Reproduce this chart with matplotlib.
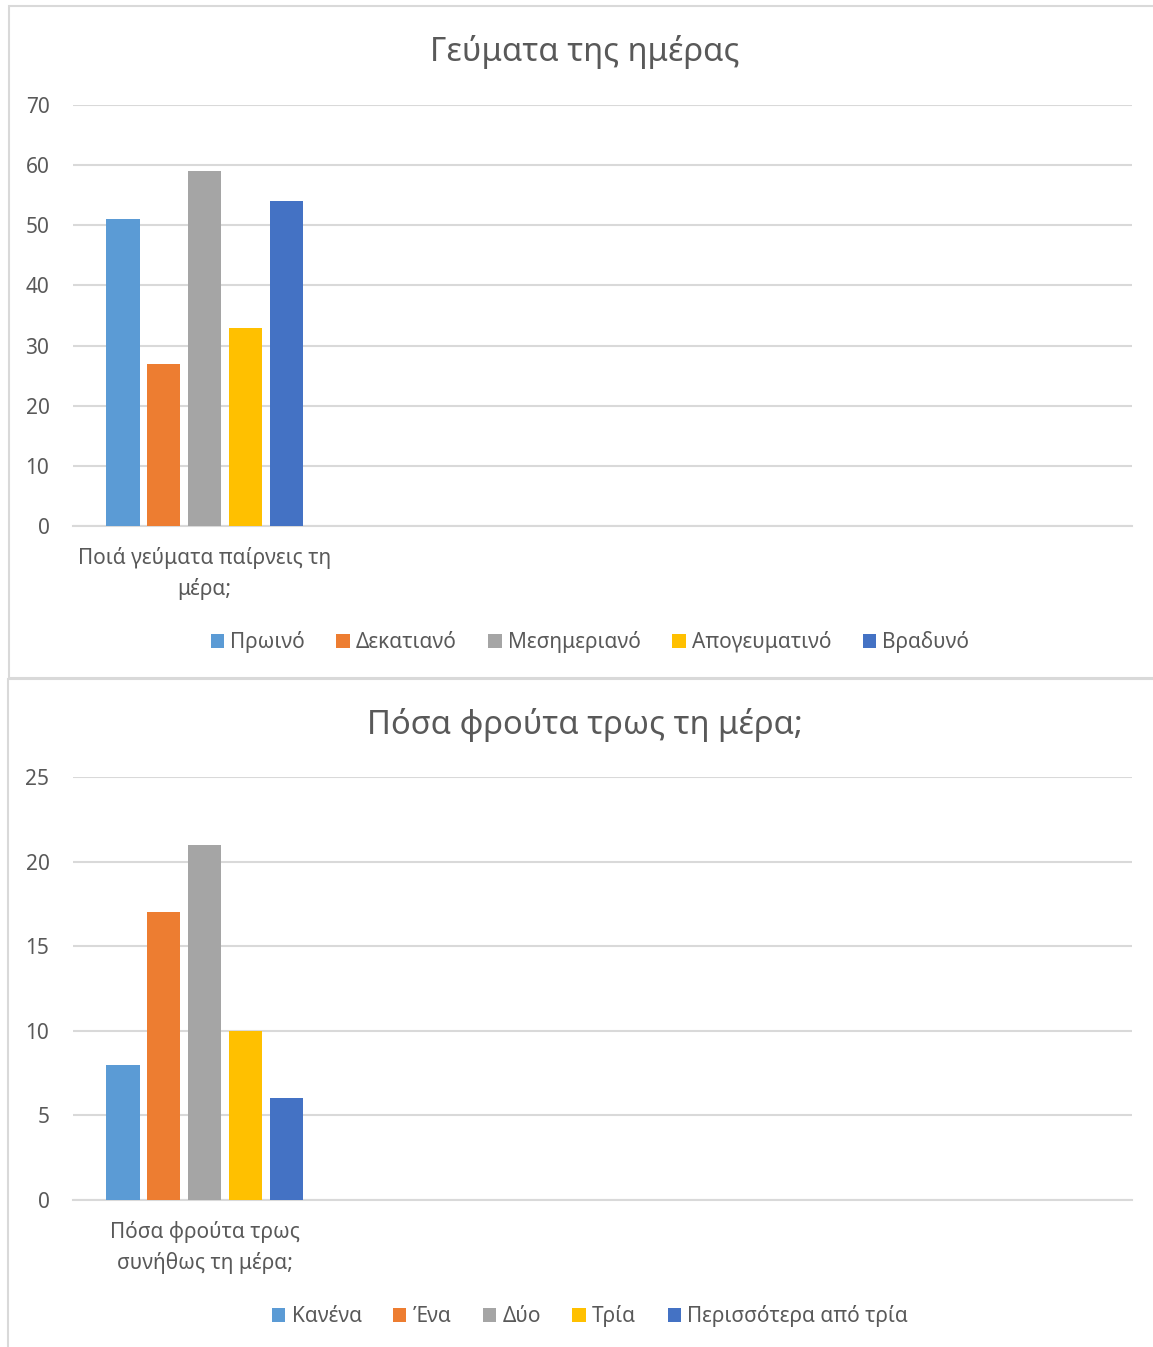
import matplotlib.pyplot as plt
from matplotlib.patches import Rectangle

plt.rcParams['font.family'] = ['Noto Sans', 'DejaVu Sans']

# Data for the two charts
meals_title = "Γεύματα της ημέρας"
meals_category = "Ποιά γεύματα παίρνεις τη\nμέρα;"
meals_labels = ["Πρωινό", "Δεκατιανό", "Μεσημεριανό", "Απογευματινό", "Βραδυνό"]
meals_values = [51, 27, 59, 33, 54]

fruit_title = "Πόσα φρούτα τρως τη μέρα;"
fruit_category = "Πόσα φρούτα τρως\nσυνήθως τη μέρα;"
fruit_labels = ["Κανένα", "Ένα", "Δύο", "Τρία", "Περισσότερα από τρία"]
fruit_values = [8, 17, 21, 10, 6]

colors = ['#5B9BD5', '#ED7D31', '#A5A5A5', '#FFC000', '#4472C4']
text_color = '#595959'
grid_color = '#D9D9D9'

W, H = 1153, 1347
fig = plt.figure(figsize=(W / 100, H / 100), dpi=100)

# chart frames (light grey borders like Excel chart areas)
fig.patches.append(Rectangle((8.5 / W, 1 - 678 / H), 1.2, (678 - 6) / H, transform=fig.transFigure,
                             fill=False, edgecolor=grid_color, linewidth=1.5))
fig.patches.append(Rectangle((8 / W, -0.1), 1.2, 0.1 + (H - 679) / H, transform=fig.transFigure,
                             fill=False, edgecolor=grid_color, linewidth=1.5))


def draw_chart(top_px, bottom_px, title, title_y, category, labels, values, ymax, ystep, legend_y):
    ax = fig.add_axes([73 / W, 1 - bottom_px / H, (1132 - 73) / W, (bottom_px - top_px) / H])
    bar_w = 0.123
    step = 0.152
    n = len(values)
    handles = []
    for i in range(n):
        x = (i - (n - 1) / 2) * step
        b = ax.bar(x, values[i], width=bar_w, color=colors[i], label=labels[i], zorder=3)
        handles.append(b)
    ax.set_xlim(-0.49, 3.45)
    ax.set_ylim(0, ymax)
    ax.set_yticks(range(0, ymax + 1, ystep))
    ax.grid(axis='y', color=grid_color, linewidth=1.5, zorder=0)
    for s in ['top', 'right', 'left']:
        ax.spines[s].set_visible(False)
    ax.spines['bottom'].set_color(grid_color)
    ax.spines['bottom'].set_linewidth(1.5)
    ax.set_xticks([0])
    ax.set_xticklabels([category], linespacing=1.56)
    ax.tick_params(axis='both', length=0, colors=text_color, labelsize=15)
    ax.tick_params(axis='y', pad=17)
    ax.tick_params(axis='x', pad=15)
    fig.text(585 / W, 1 - title_y / H, title, ha='center', va='center', fontsize=23.6, color=text_color)
    fig.legend(handles=handles, loc='center', bbox_to_anchor=(590 / W, 1 - legend_y / H), ncol=n,
               frameon=False, fontsize=15, labelcolor=text_color, handlelength=0.65, handleheight=0.65,
               handletextpad=0.3, columnspacing=1.5)
    return ax


draw_chart(105, 526, meals_title, 52, meals_category, meals_labels, meals_values, 70, 10, 642)
draw_chart(777, 1200, fruit_title, 725, fruit_category, fruit_labels, fruit_values, 25, 5, 1316)

fig.savefig('out.png', dpi=100)
